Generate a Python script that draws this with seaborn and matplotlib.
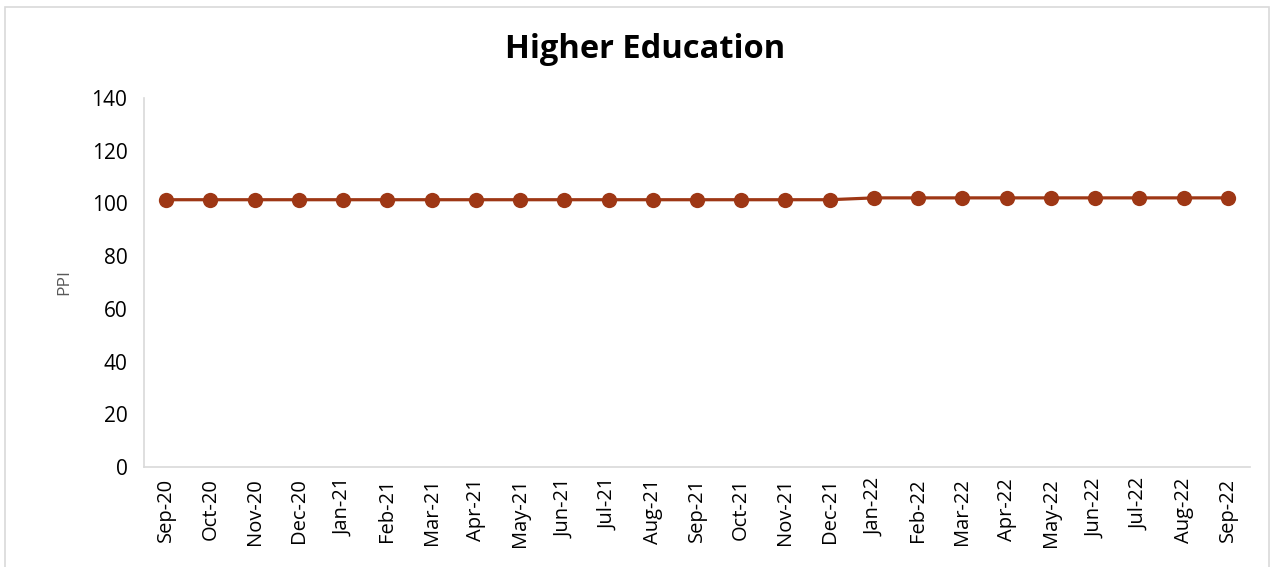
import seaborn as sns
import matplotlib.pyplot as plt
import pandas as pd
import numpy as np
from matplotlib.ticker import FixedLocator

months = ["Sep-20", "Oct-20", "Nov-20", "Dec-20", "Jan-21", "Feb-21", "Mar-21",
          "Apr-21", "May-21", "Jun-21", "Jul-21", "Aug-21", "Sep-21", "Oct-21",
          "Nov-21", "Dec-21", "Jan-22", "Feb-22", "Mar-22", "Apr-22", "May-22",
          "Jun-22", "Jul-22", "Aug-22", "Sep-22"]
ppi = [101.4] * 16 + [102.1] * 9

sns.set_style("white")
plt.rcParams['font.family'] = ['Open Sans', 'DejaVu Sans']

df = pd.DataFrame({"Month": months, "PPI": ppi})

fig = plt.figure(figsize=(12.77, 5.67), dpi=100)
ax = fig.add_axes([0.1128, 0.1764, 0.866, 0.6508])

sns.lineplot(data=df, x="Month", y="PPI", marker="o", color="#9E3715",
             linewidth=2.3, markersize=11, markeredgewidth=0, ax=ax)

ax.set_ylim(0, 140)
ax.set_yticks(np.arange(0, 141, 20))
ax.set_xlim(-0.5, len(months) - 0.5)
ax.set_xticks(range(len(months)))
ax.set_xticklabels(months, rotation=90)
ax.xaxis.set_minor_locator(FixedLocator(np.arange(-0.5, len(months), 1)))
ax.tick_params(axis="x", which="major", length=0, labelsize=14.5, pad=8, labelcolor="black")
ax.tick_params(axis="x", which="minor", length=6, color="#d9d9d9", width=1.2, direction="out")
ax.tick_params(axis="y", length=6, color="#d9d9d9", width=1.2, labelsize=15, pad=6, labelcolor="black")

for s in ["top", "right"]:
    ax.spines[s].set_visible(False)
for s in ["left", "bottom"]:
    ax.spines[s].set_color("#d9d9d9")
    ax.spines[s].set_linewidth(1.2)

ax.set_xlabel("")
ax.set_ylabel("PPI", fontsize=12.5, color="#595959", labelpad=14)
fig.text(0.505, 0.913, "Higher Education", ha="center", va="center",
         fontsize=23.5, fontweight="bold", color="black")

border = plt.Rectangle((0.004, -0.01), 0.99, 0.998, transform=fig.transFigure,
                       fill=False, edgecolor="#d9d9d9", linewidth=1.2)
fig.patches.append(border)

fig.savefig("out.png", dpi=100)
